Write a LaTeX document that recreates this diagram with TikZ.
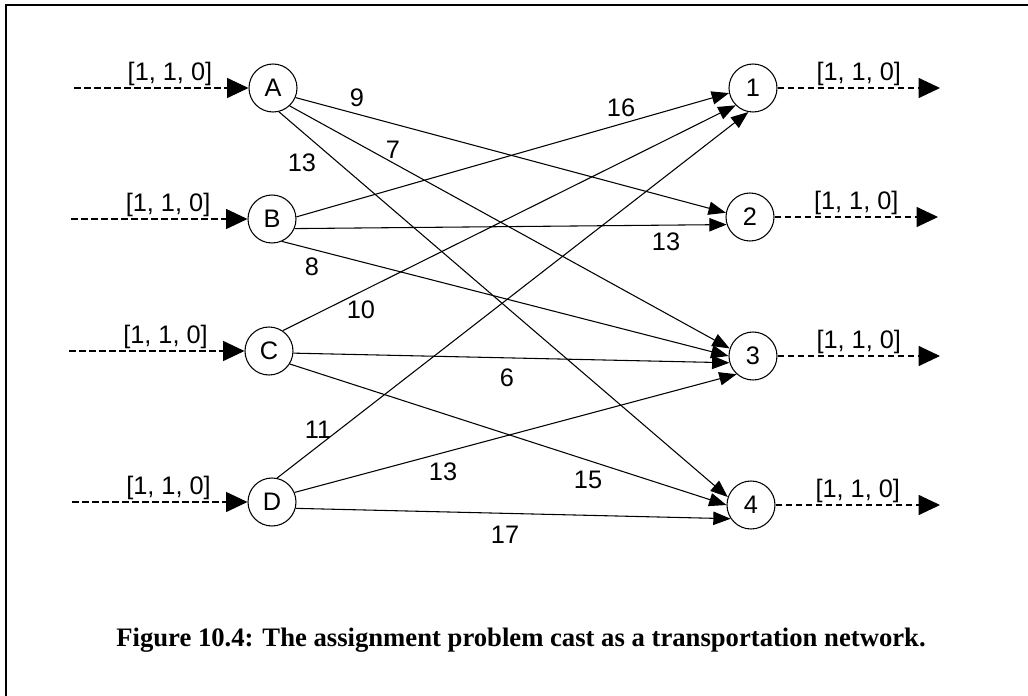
\documentclass[tikz,border=0pt]{standalone}
\usepackage{fontspec}
\setmainfont{Liberation Sans}
\newfontfamily\capfont{Liberation Serif}
\usetikzlibrary{arrows.meta}

\begin{document}
\begin{tikzpicture}[x=0.75pt,y=-0.75pt,font=\fontsize{19}{23}\selectfont,
    vertex/.style={draw,circle,minimum size=36pt,inner sep=0pt,line width=0.8pt},
    edge/.style={line width=0.8pt,-{Triangle[length=13pt,width=10pt]}},
    flow/.style={line width=0.8pt,dash pattern=on 5pt off 2.5pt,-{Triangle[length=16pt,width=15pt]}},
    tag/.style={above,inner sep=1pt}]
    \useasboundingbox (0,0) rectangle (1028,696);
    \draw[line width=1.5pt] (6,696) -- (6,5) -- (1028,5);

    % workers
    \node[vertex] (A) at (273,88){A};
    \node[vertex] (B) at (272,219){B};
    \node[vertex] (C) at (269,351){C};
    \node[vertex] (D) at (272,502){D};
    % jobs
    \node[vertex] (1) at (753,88){1};
    \node[vertex] (2) at (750,217){2};
    \node[vertex] (3) at (753,356){3};
    \node[vertex] (4) at (751,505){4};

    \coordinate (inA) at (74,88);
    \coordinate (inB) at (71,219);
    \coordinate (inC) at (69,351);
    \coordinate (inD) at (72,502);
    \coordinate (out1) at (940,88);
    \coordinate (out2) at (938,217);
    \coordinate (out3) at (940,356);
    \coordinate (out4) at (940,505);

    \draw[flow] (inA) -- node[tag,pos=0.55]{[1, 1, 0]} (A);
    \draw[flow] (inB) -- node[tag,pos=0.55]{[1, 1, 0]} (B);
    \draw[flow] (inC) -- node[tag,pos=0.55]{[1, 1, 0]} (C);
    \draw[flow] (inD) -- node[tag,pos=0.55]{[1, 1, 0]} (D);
    \draw[flow] (1) -- node[tag]{[1, 1, 0]} (out1);
    \draw[flow] (2) -- node[tag]{[1, 1, 0]} (out2);
    \draw[flow] (3) -- node[tag]{[1, 1, 0]} (out3);
    \draw[flow] (4) -- node[tag]{[1, 1, 0]} (out4);

    \draw[edge] (A.-23) -- (2.170);
    \draw[edge] (A.-47) -- (3.162);
    \draw[edge] (A.-76) -- (4.161);
    \draw[edge] (B.5) -- (1.192);
    \draw[edge] (B.-23) -- (2.198);
    \draw[edge] (B.-66) -- (3.180);
    \draw[edge] (C.56) -- (1.225);
    \draw[edge] (C.-5) -- (3.196);
    \draw[edge] (C.-32) -- (4.180);
    \draw[edge] (D.78) -- (1.259);
    \draw[edge] (D.23) -- (3.228);
    \draw[edge] (D.-15) -- (4.214);

    % costs
    \node (cA2) at (357,98){9};
    \node (cA3) at (393,150){7};
    \node (cA4) at (302,163){13};
    \node (cB1) at (621,108){16};
    \node (cB2) at (666,242){13};
    \node (cB3) at (312,267){8};
    \node (cC1) at (361,310){10};
    \node (cC3) at (507,378){6};
    \node (cC4) at (588,480){15};
    \node (cD1) at (318,430){11};
    \node (cD3) at (443,472){13};
    \node (cD4) at (505,535){17};

    \node[font=\capfont\bfseries\fontsize{20}{24}\selectfont] (cap) at (521,640)
        {Figure 10.4: The assignment problem cast as a transportation network.};
\end{tikzpicture}
\end{document}
